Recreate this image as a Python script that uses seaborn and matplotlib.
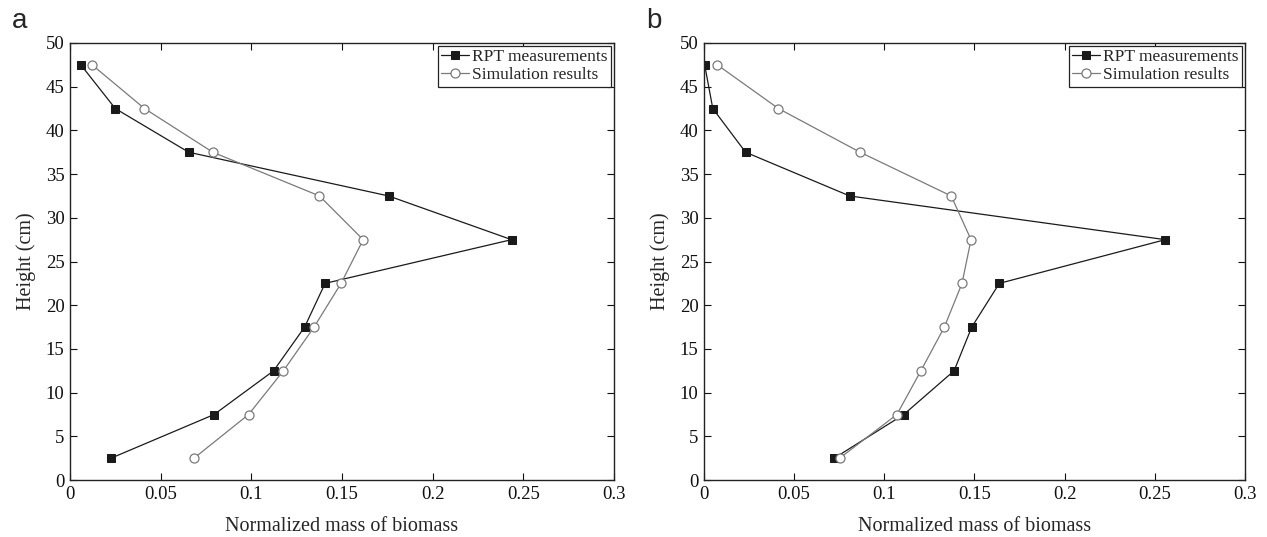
import matplotlib
matplotlib.use("Agg")
import pandas as pd
import seaborn as sns
from matplotlib import pyplot as plt

# heights of the measurement zones (cm)
heights = [47.5, 42.5, 37.5, 32.5, 27.5, 22.5, 17.5, 12.5, 7.5, 2.5]

# panel a
rpt_a = [0.006, 0.025, 0.0655, 0.1757, 0.2435, 0.1407, 0.1294, 0.1123, 0.0795, 0.0226]
sim_a = [0.0122, 0.0411, 0.0788, 0.1376, 0.1617, 0.1495, 0.1346, 0.1177, 0.0985, 0.0684]

# panel b
rpt_b = [0.0004, 0.0049, 0.0231, 0.0808, 0.2558, 0.1638, 0.1485, 0.1387, 0.1108, 0.0722]
sim_b = [0.0074, 0.0413, 0.0866, 0.1371, 0.1481, 0.1431, 0.1333, 0.1203, 0.1070, 0.0752]

panel_labels = ["a", "b"]
x_ticks = [0, 0.05, 0.1, 0.15, 0.2, 0.25, 0.3]
x_tick_labels = ["0", "0.05", "0.1", "0.15", "0.2", "0.25", "0.3"]
y_ticks = list(range(0, 51, 5))

sns.set_style("ticks")
plt.rcParams["font.family"] = ["Liberation Serif", "DejaVu Serif"]


def draw_panel(ax, rpt, sim, label):
    df = pd.DataFrame({"height": heights, "rpt": rpt, "sim": sim})

    sns.lineplot(
        data=df, x="rpt", y="height", sort=False, estimator=None,
        color="#1a1a1a", linewidth=0.9, marker="s", markersize=6,
        markerfacecolor="#1a1a1a", markeredgecolor="#1a1a1a",
        label="RPT measurements", ax=ax,
    )
    sns.lineplot(
        data=df, x="sim", y="height", sort=False, estimator=None,
        color="#7a7a7a", linewidth=0.9, marker="o", markersize=6.5,
        markerfacecolor="white", markeredgecolor="#7a7a7a",
        markeredgewidth=0.9, label="Simulation results", ax=ax,
    )

    ax.set_xlim(0, 0.3)
    ax.set_ylim(0, 50)
    ax.set_xticks(x_ticks)
    ax.set_xticklabels(x_tick_labels)
    ax.set_yticks(y_ticks)
    ax.tick_params(direction="in", top=True, right=True, length=5,
                   width=0.8, labelsize=13.5, pad=4, colors="#111111")
    for spine in ax.spines.values():
        spine.set_visible(True)
        spine.set_linewidth(1.0)
        spine.set_color("#222222")

    ax.set_xlabel("Normalized mass of biomass", fontsize=14.5, labelpad=10)
    ax.set_ylabel("Height (cm)", fontsize=14.5, labelpad=7)

    leg = ax.legend(loc="upper right", fontsize=12.5, frameon=True,
                    fancybox=False, edgecolor="#222222", framealpha=1,
                    handlelength=1.6, handletextpad=0.2, borderpad=0.2,
                    labelspacing=0.1, borderaxespad=0.15)
    leg.get_frame().set_linewidth(0.9)

    ax.text(-0.107, 1.034, label, transform=ax.transAxes, fontsize=20,
            family=["Liberation Sans", "DejaVu Sans"], va="baseline",
            ha="left")


fig = plt.figure(figsize=(12.67, 5.37), dpi=100)
ax_a = fig.add_axes([0.0552, 0.106, 0.4294, 0.814])
ax_b = fig.add_axes([0.5556, 0.106, 0.4270, 0.814])

draw_panel(ax_a, rpt_a, sim_a, panel_labels[0])
draw_panel(ax_b, rpt_b, sim_b, panel_labels[1])

fig.savefig("out.png", dpi=100)
plt.close(fig)
